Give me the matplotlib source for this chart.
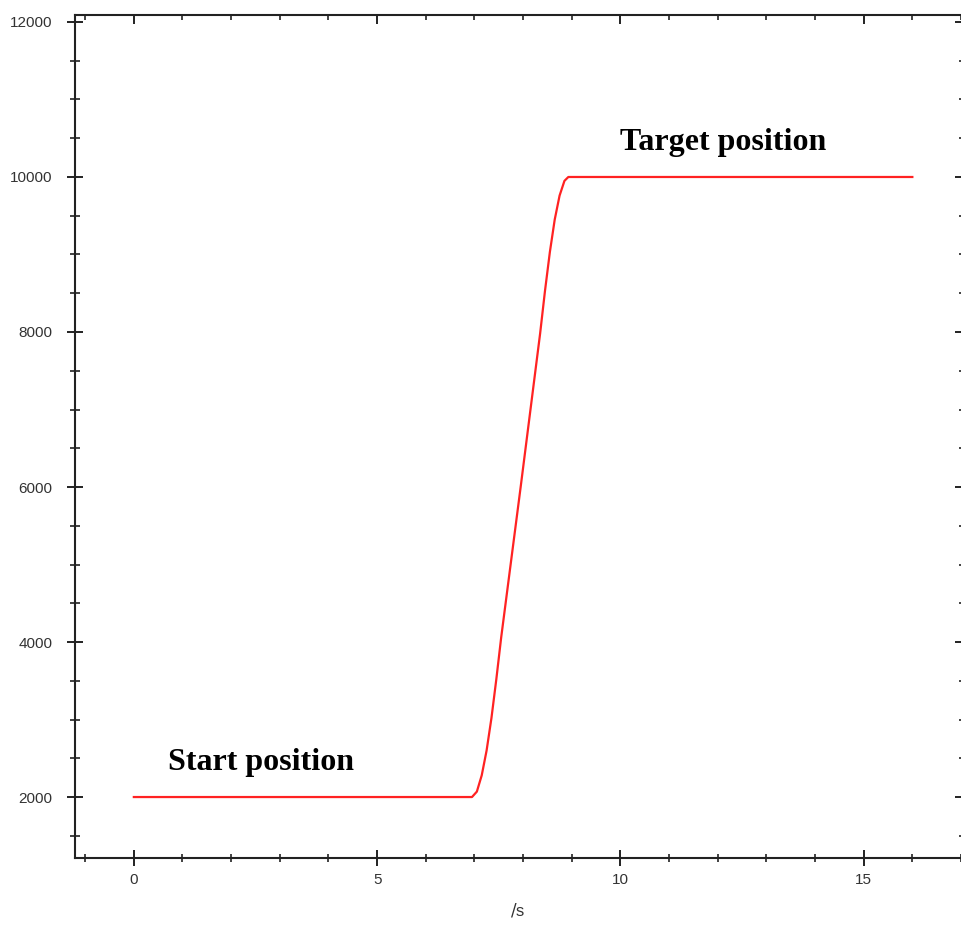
import matplotlib
matplotlib.use('Agg')
import matplotlib.pyplot as plt
from matplotlib.ticker import MultipleLocator

# position curve
t_s = [0, 6.95, 7.05, 7.15, 7.25, 7.35, 7.45, 7.55, 7.95, 8.35, 8.45, 8.55, 8.65, 8.75, 8.85, 8.93, 16.0]
pos = [2000, 2000, 2070, 2280, 2600, 3020, 3520, 4060, 6000, 7980, 8530, 9030, 9450, 9760, 9950, 10000, 10000]

x_major = [0, 5, 10, 15]
y_major = [2000, 4000, 6000, 8000, 10000, 12000]

plt.rcParams['font.family'] = ['Liberation Sans', 'DejaVu Sans']

fig = plt.figure(figsize=(9.61, 9.26), dpi=100)
ax = fig.add_axes([0.078, 0.0734, 0.922, 0.9104])

ax.plot(t_s, pos, color='#ff2222', lw=1.6)

ax.set_xlim(-1.21, 17.0)
ax.set_ylim(1213, 12090)

ax.set_xticks(x_major)
ax.set_yticks(y_major)
ax.xaxis.set_minor_locator(MultipleLocator(1))
ax.yaxis.set_minor_locator(MultipleLocator(500))

for s in ['left', 'bottom', 'top']:
    ax.spines[s].set_linewidth(1.5)
    ax.spines[s].set_color('#222222')
ax.spines['right'].set_visible(False)

ax.tick_params(which='major', direction='inout', length=12, width=1.4, color='#222222',
               labelsize=11, labelcolor='#333333')
ax.tick_params(axis='y', which='minor', direction='inout', length=7, width=1.2, color='#222222')
ax.tick_params(axis='x', which='minor', direction='inout', length=6, width=1.2, color='#222222')
ax.tick_params(which='both', top=True, right=True)
ax.tick_params(axis='x', which='major', pad=5)
ax.tick_params(axis='y', which='major', pad=10)

# top/right ticks only point inward, and are shorter
for tk in ax.xaxis.get_major_ticks():
    tk.tick2line.set_marker(matplotlib.markers.TICKDOWN)
    tk.tick2line.set_markersize(6.5)
for tk in ax.xaxis.get_minor_ticks():
    tk.tick2line.set_marker(matplotlib.markers.TICKDOWN)
    tk.tick2line.set_markersize(3.5)
for tk in ax.yaxis.get_major_ticks():
    tk.tick2line.set_marker(matplotlib.markers.TICKLEFT)
    tk.tick2line.set_markersize(4.5)
for tk in ax.yaxis.get_minor_ticks():
    tk.tick2line.set_marker(matplotlib.markers.TICKLEFT)
    tk.tick2line.set_markersize(1.8)

ax.set_xlabel(r'$\mathit{/}$s', fontsize=12, color='#333333', labelpad=10)

ax.text(0.7, 2350, 'Start position', family='Liberation Serif', weight='bold', fontsize=23)
ax.text(10.0, 10350, 'Target position', family='Liberation Serif', weight='bold', fontsize=23)

fig.savefig('out.png', dpi=100)
